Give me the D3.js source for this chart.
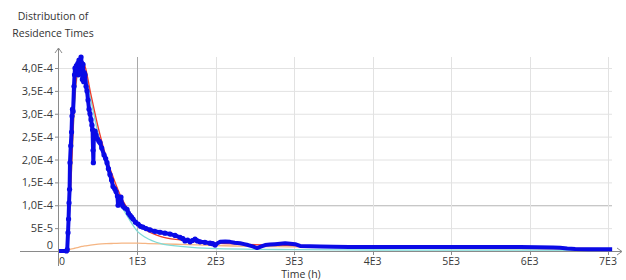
<!DOCTYPE html>
<html>
<head>
<meta charset="utf-8">
<script src="https://cdn.jsdelivr.net/npm/d3@7"></script>
<style>
  body { margin: 0; background: #fff; }
  svg { display: block; }
</style>
</head>
<body>
<div class="chart"></div>
<script>
// measured distribution (blue dots)
const measTime = [0, 40, 80, 95, 105, 115, 122, 128, 135, 140, 150, 160, 166, 172, 180, 191, 198, 204, 215, 222, 230, 240, 247, 255, 262, 270, 281, 290, 298, 306, 315, 322, 332, 345, 357, 370, 383, 395, 408, 420, 428, 434, 438, 445, 460, 472, 490, 510, 523, 545, 574, 595, 612, 630, 650, 670, 689, 710, 727, 745, 753, 760, 770, 778, 790, 805, 816, 840, 867, 885, 906, 925, 944, 975, 1008, 1040, 1071, 1110, 1161, 1220, 1288, 1350, 1416, 1480, 1543, 1580, 1607, 1640, 1671, 1700, 1735, 1765, 1798, 1860, 1926, 1960, 1990, 2020, 2054, 2120, 2181, 2240, 2309, 2360, 2411, 2470, 2525, 2580, 2628, 2690, 2755, 2820, 2883, 2950, 3010, 3074, 3200, 3329, 3500, 3700, 3992, 4300, 4600, 4987, 5300, 5600, 5880, 6100, 6300, 6390, 6480, 6582, 6750, 6900, 7053];
const measValue = [0, 0, 0, 0, 3e-6, 4e-5, 7e-5, 1.05e-4, 1.35e-4, 1.93e-4, 2.3e-4, 2.6e-4, 2.95e-4, 3.1e-4, 3.05e-4, 3.6e-4, 3.85e-4, 4.0e-4, 3.9e-4, 4.05e-4, 3.95e-4, 4.1e-4, 3.85e-4, 4.17e-4, 4.05e-4, 3.9e-4, 4.24e-4, 4.1e-4, 3.75e-4, 4.08e-4, 3.7e-4, 3.9e-4, 3.85e-4, 3.6e-4, 3.5e-4, 3.3e-4, 3.1e-4, 3.0e-4, 2.87e-4, 2.75e-4, 2.65e-4, 2.2e-4, 1.93e-4, 2.6e-4, 2.62e-4, 2.54e-4, 2.45e-4, 2.4e-4, 2.37e-4, 2.25e-4, 2.1e-4, 2.02e-4, 1.93e-4, 1.8e-4, 1.67e-4, 1.55e-4, 1.41e-4, 1.36e-4, 1.3e-4, 1.2e-4, 1.0e-4, 1.18e-4, 1.12e-4, 1.07e-4, 1.18e-4, 1.02e-4, 9.8e-5, 9.4e-5, 9.1e-5, 8.3e-5, 7.8e-5, 7.4e-5, 7e-5, 6.3e-5, 5.9e-5, 5.4e-5, 5.2e-5, 4.9e-5, 4.6e-5, 4.3e-5, 4.1e-5, 3.9e-5, 3.7e-5, 3.4e-5, 3e-5, 2.7e-5, 2.2e-5, 2.4e-5, 2e-5, 2.3e-5, 2.6e-5, 2.2e-5, 2e-5, 1.9e-5, 1.7e-5, 1.6e-5, 1.3e-5, 1.7e-5, 2e-5, 2.1e-5, 2e-5, 1.8e-5, 1.7e-5, 1.5e-5, 1.3e-5, 1e-5, 6.5e-6, 1e-5, 1.3e-5, 1.4e-5, 1.5e-5, 1.6e-5, 1.7e-5, 1.6e-5, 1.5e-5, 1.1e-5, 1.05e-5, 1.0e-5, 9.5e-6, 9e-6, 8.7e-6, 8.6e-6, 8.5e-6, 8.5e-6, 8.5e-6, 8.5e-6, 8.5e-6, 8.2e-6, 7.6e-6, 7e-6, 5.5e-6, 4.2e-6, 4e-6, 4e-6, 4e-6];

// model curves
const modelTime = [0, 80, 100, 150, 200, 250, 290, 330, 400, 500, 600, 700, 800, 900, 1000, 1100, 1300, 1550, 2000, 3000, 4000, 5000, 6000, 7000];
const modelTotal = [0, 0, 3e-6, 1.44e-4, 3.33e-4, 4.03e-4, 4.15e-4, 4.05e-4, 3.48e-4, 2.7e-4, 2.06e-4, 1.57e-4, 1.15e-4, 8.5e-5, 6e-5, 4.65e-5, 3.15e-5, 2.4e-5, 1.7e-5, 1.2e-5, 9e-6, 7.5e-6, 6e-6, 5e-6];
const modelFast = [0, 0, 2e-6, 1.4e-4, 3.25e-4, 3.95e-4, 4.02e-4, 3.93e-4, 3.35e-4, 2.55e-4, 1.9e-4, 1.4e-4, 9.8e-5, 6.8e-5, 4.3e-5, 3e-5, 1.6e-5, 1e-5, 5e-6, 3e-6, 2.2e-6, 2e-6, 1.7e-6, 1.5e-6];
const modelSlow = [0, 0, 1e-6, 4e-6, 6e-6, 8e-6, 1e-5, 1.1e-5, 1.3e-5, 1.5e-5, 1.6e-5, 1.65e-5, 1.7e-5, 1.7e-5, 1.7e-5, 1.65e-5, 1.55e-5, 1.45e-5, 1.2e-5, 9e-6, 7e-6, 5.5e-6, 4.5e-6, 3.5e-6];

const xTicks = [0, 1000, 2000, 3000, 4000, 5000, 6000, 7000];
const xTickLabels = ["0", "1E3", "2E3", "3E3", "4E3", "5E3", "6E3", "7E3"];
const yTicks = [0, 5e-5, 1e-4, 1.5e-4, 2e-4, 2.5e-4, 3e-4, 3.5e-4, 4e-4];
const yTickLabels = ["0", "5E-5", "1,0E-4", "1,5E-4", "2,0E-4", "2,5E-4", "3,0E-4", "3,5E-4", "4,0E-4"];

const width = 626, height = 280;
const x = d3.scaleLinear().domain([0, 7000]).range([59, 608]);
const y = d3.scaleLinear().domain([0, 4e-4]).range([251, 68]);

const svg = d3.select('.chart').append('svg')
  .attr('width', width).attr('height', height)
  .style('font', '10.5px "Open Sans", sans-serif');

// grid
svg.append('g').selectAll('line').data(yTicks.slice(1)).join('line')
  .attr('x1', 58).attr('x2', 612)
  .attr('y1', d => y(d) + 0.5).attr('y2', d => y(d) + 0.5)
  .attr('stroke', d => d === 1e-4 ? '#b4b4b4' : '#e2e2e2');
svg.append('g').selectAll('line').data(xTicks.slice(1)).join('line')
  .attr('x1', d => Math.round(x(d)) + 0.5).attr('x2', d => Math.round(x(d)) + 0.5)
  .attr('y1', 57).attr('y2', y(0))
  .attr('stroke', d => d === 1000 ? '#a8a8a8' : '#e2e2e2');

// axes with arrows
const axisCol = '#8a8a8a';
svg.append('line').attr('x1', 20).attr('x2', 622).attr('y1', y(0) + 0.5).attr('y2', y(0) + 0.5).attr('stroke', axisCol);
svg.append('path').attr('d', `M617,${y(0) - 3}L622,${y(0) + 0.5}L617,${y(0) + 4}`).attr('fill', 'none').attr('stroke', axisCol);
svg.append('line').attr('x1', 58.5).attr('x2', 58.5).attr('y1', 48).attr('y2', 266).attr('stroke', axisCol);
svg.append('path').attr('d', 'M55,53L58.5,48L62,53').attr('fill', 'none').attr('stroke', axisCol);

// ticks
svg.append('g').selectAll('line').data(yTicks.slice(1)).join('line')
  .attr('x1', 55).attr('x2', 58).attr('y1', d => y(d) + 0.5).attr('y2', d => y(d) + 0.5).attr('stroke', axisCol);
svg.append('g').selectAll('text').data(yTicks).join('text')
  .attr('x', 53).attr('y', (d, i) => i === 0 ? y(d) - 2 : y(d) + 4)
  .attr('text-anchor', 'end').attr('fill', '#3a3a3a')
  .style('font-size', '11px')
  .text((d, i) => yTickLabels[i]);
svg.append('g').selectAll('line').data(xTicks.slice(1)).join('line')
  .attr('x1', d => Math.round(x(d)) + 0.5).attr('x2', d => Math.round(x(d)) + 0.5)
  .attr('y1', y(0)).attr('y2', y(0) + 4).attr('stroke', axisCol);
svg.append('g').selectAll('text').data(xTicks).join('text')
  .attr('x', (d, i) => i === 0 ? x(d) + 3 : x(d)).attr('y', 265)
  .attr('text-anchor', 'middle').attr('fill', '#3a3a3a')
  .text((d, i) => xTickLabels[i]);

// titles
svg.append('text').attr('x', 53).attr('y', 20).attr('text-anchor', 'middle').attr('fill', '#333')
  .text('Distribution of');
svg.append('text').attr('x', 53).attr('y', 37).attr('text-anchor', 'middle').attr('fill', '#333')
  .text('Residence Times');
svg.append('text').attr('x', 301).attr('y', 278).attr('text-anchor', 'middle').attr('fill', '#333')
  .text('Time (h)');

// model lines
const model = (vals) => d3.line().curve(d3.curveMonotoneX)
  .x((d, i) => x(modelTime[i])).y(d => y(d))(vals);
svg.append('path').attr('d', model(modelSlow)).attr('fill', 'none').attr('stroke', '#f5b583').attr('stroke-width', 1.3);
svg.append('path').attr('d', model(modelFast)).attr('fill', 'none').attr('stroke', '#7fdad6').attr('stroke-width', 1.3);
svg.append('path').attr('d', model(modelTotal)).attr('fill', 'none').attr('stroke', '#ee3b2b').attr('stroke-width', 1.3);

// measured
const blue = '#0a0ae6';
const inDots = t => t > 90 && t < 2000;
svg.append('path')
  .attr('d', d3.line().x((d, i) => x(measTime[i])).y(d => y(d))(measValue))
  .attr('fill', 'none').attr('stroke', blue).attr('stroke-width', 4).attr('stroke-linejoin', 'round');
svg.append('g').selectAll('circle').data(measTime.filter(inDots)).join('circle')
  .attr('cx', d => x(d))
  .attr('cy', d => y(measValue[measTime.indexOf(d)])).attr('r', 2.6).attr('fill', blue);
</script>
</body>
</html>
